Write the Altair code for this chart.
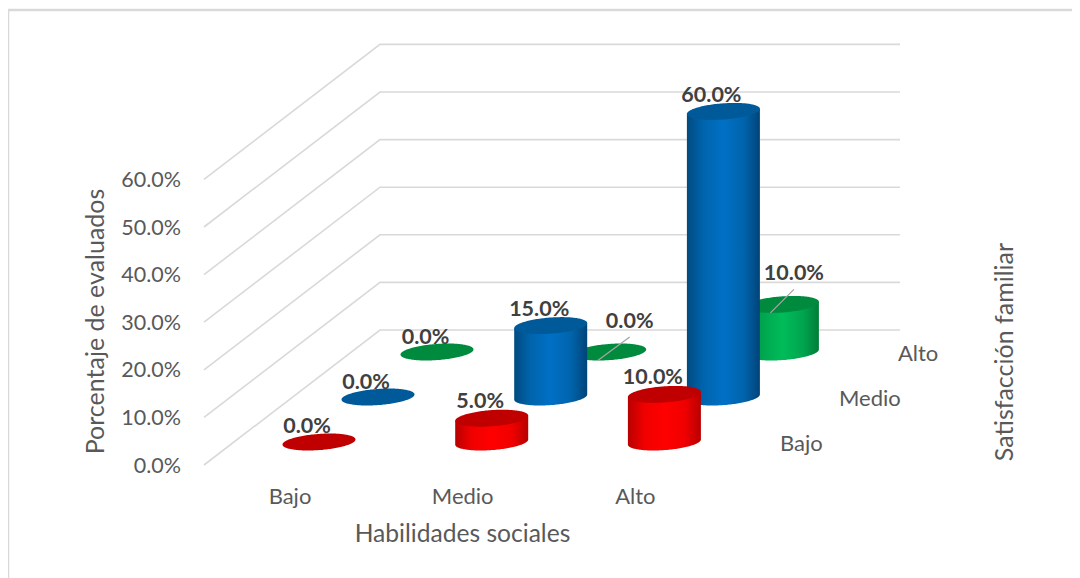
import math
import altair as alt
import pandas as pd

# ---- values ----
categories = ["Bajo", "Medio", "Alto"]
series_names = ["Bajo", "Medio", "Alto"]
values_bajo = [0.0, 5.0, 10.0]
values_medio = [0.0, 15.0, 60.0]
values_alto = [0.0, 0.0, 10.0]
all_values = [values_bajo, values_medio, values_alto]
value_ticks = [0, 10, 20, 30, 40, 50, 60]
x_title = "Habilidades sociales"
y_title = "Porcentaje de evaluados"
depth_title = "Satisfacción familiar"

# ---- oblique projection of (category, series, value) to the plot scales ----
W, H = 1064, 570
PX_PER_PCT = 4.76
CAT_STEP = 172.7
SER_DX, SER_DY = 59.0, 45.0
BASE_X, BASE_Y = 311.0, 434.0      # front series, first category, floor
WALL_BACK_X, WALL_END_X, WALL_FRONT_X = 372.0, 892.0, 196.0
WALL_BACK_Y, WALL_DY = 322.0, 135.0
RX, RY, SHEAR = 36.5, 8.1, 0.07
N = 80

def cx(c, s):
    return BASE_X + c * CAT_STEP + s * SER_DX

def cy(s, v=0.0):
    return BASE_Y - s * SER_DY - v * PX_PER_PCT

def profile():
    for i in range(N + 1):
        t = math.pi * (1 - i / N)
        yield RX * math.cos(t), RY * math.sin(t)

top_rows, body_rows = [], []
for s in range(3):
    for c in range(3):
        v = all_values[s][c]
        for dx, dy in profile():
            x = cx(c, s) + dx
            sh = -SHEAR * dx
            top_rows.append(dict(s=s, c=c, x=x, y1=cy(s, v) + sh - dy, y2=cy(s, v) + sh + dy))
            if v > 0:
                body_rows.append(dict(s=s, c=c, x=x, y1=cy(s, v) + sh, y2=cy(s) + sh + dy))
top_df = pd.DataFrame(top_rows)
body_df = pd.DataFrame(body_rows)

X = alt.X("x:Q", scale=alt.Scale(domain=[0, W], range=[0, W], nice=False, zero=False), axis=None)
Y = alt.Y("y:Q", scale=alt.Scale(domain=[0, H], range=[0, H], nice=False, zero=False), axis=None)
Y1 = alt.Y("y1:Q", scale=alt.Scale(domain=[0, H], range=[0, H], nice=False, zero=False), axis=None)

GRID = "#D9D9D9"
AXIS_TXT = "#595959"
LABEL_TXT = "#404040"
FONT = "Lato"

# frame: left and top edges only
frame = alt.Chart(pd.DataFrame({"x": [0, 0, W], "y": [H, 2, 2], "o": range(3)})).mark_line(
    color=GRID, strokeWidth=2.5, clip=False
).encode(x=X, y=Y, order="o:O")

# walls
wall_rows = []
for t in value_ticks:
    y = WALL_BACK_Y - t * PX_PER_PCT
    wall_rows += [
        dict(t=t, o=0, x=WALL_FRONT_X, y=y + WALL_DY),
        dict(t=t, o=1, x=WALL_BACK_X, y=y),
        dict(t=t, o=2, x=WALL_END_X, y=y),
    ]
walls = alt.Chart(pd.DataFrame(wall_rows)).mark_line(color=GRID, strokeWidth=1.6).encode(
    x=X, y=Y, detail="t:N", order="o:O"
)

def grad(edge_l, mid, bright, edge_r):
    return alt.Gradient(
        gradient="linear", x1=0, x2=1, y1=0, y2=0,
        stops=[
            alt.GradientStop(color=edge_l, offset=0),
            alt.GradientStop(color=mid, offset=0.22),
            alt.GradientStop(color=bright, offset=0.5),
            alt.GradientStop(color=mid, offset=0.78),
            alt.GradientStop(color=edge_r, offset=1),
        ],
    )

body_fill = {
    0: grad("#B80000", "#F00000", "#FF0000", "#B80000"),
    1: grad("#004B80", "#0064AC", "#0070C6", "#004478"),
    2: grad("#008A3E", "#00A54F", "#00BC59", "#007E38"),
}
top_fill = {0: "#C00000", 1: "#005A9A", 2: "#008A3E"}

# leader lines and value labels
leader_rows = []
label_rows = []
label_off = {
    (0, 0): (-12, -15), (0, 1): (-11.5, -16), (0, 2): (-11.5, -16),
    (1, 0): (-12, -14), (1, 1): (-11.5, -15.5), (1, 2): (-12, -15),
    (2, 0): (-11.5, -14), (2, 1): (20, -30.5), (2, 2): (11.5, -30.5),
}
for (s, c), (ox, oy) in label_off.items():
    v = all_values[s][c]
    label_rows.append(dict(x=cx(c, s) + ox, y=cy(s, v) + oy, txt=f"{v:.1f}%"))
    if oy < -20:
        leader_rows += [
            dict(k=f"{s}{c}", o=0, x=cx(c, s) - 12, y=cy(s, v) + 8.5),
            dict(k=f"{s}{c}", o=1, x=cx(c, s) + ox, y=cy(s, v) - 15),
        ]

layers = [frame, walls]
for s in [2, 1, 0]:
    b = body_df[body_df.s == s]
    if len(b):
        layers.append(
            alt.Chart(b).mark_area(color=body_fill[s], line=False, interpolate="linear").encode(
                x=X, y=Y1, y2="y2:Q", detail="c:N"
            )
        )
    layers.append(
        alt.Chart(top_df[top_df.s == s]).mark_area(color=top_fill[s], interpolate="linear").encode(
            x=X, y=Y1, y2="y2:Q", detail="c:N"
        )
    )

layers.append(
    alt.Chart(pd.DataFrame(leader_rows)).mark_line(color="#A6A6A6", strokeWidth=1.3).encode(
        x=X, y=Y, detail="k:N", order="o:O"
    )
)
layers.append(
    alt.Chart(pd.DataFrame(label_rows)).mark_text(
        font=FONT, fontSize=21.5, fontWeight="bold", color=LABEL_TXT
    ).encode(x=X, y=Y, text="txt:N")
)

# value axis labels
tick_df = pd.DataFrame([
    dict(x=173.0, y=WALL_BACK_Y + WALL_DY - t * PX_PER_PCT + 1.5, txt=f"{t:.1f}%") for t in value_ticks
])
layers.append(
    alt.Chart(tick_df).mark_text(font=FONT, fontSize=21.5, color=AXIS_TXT, align="right").encode(x=X, y=Y, text="txt:N")
)

# category labels
cat_df = pd.DataFrame([dict(x=282 + i * CAT_STEP, y=489, txt=n) for i, n in enumerate(categories)])
layers.append(
    alt.Chart(cat_df).mark_text(font=FONT, fontSize=22, color=AXIS_TXT).encode(x=X, y=Y, text="txt:N")
)

# depth labels
ser_df = pd.DataFrame([
    dict(x=772 + i * SER_DX, y=435.5 - i * SER_DY, txt=n) for i, n in enumerate(series_names)
])
layers.append(
    alt.Chart(ser_df).mark_text(font=FONT, fontSize=22, color=AXIS_TXT, align="left").encode(x=X, y=Y, text="txt:N")
)

# titles
layers.append(
    alt.Chart(pd.DataFrame([dict(x=454.5, y=527, txt=x_title)])).mark_text(
        font=FONT, fontSize=24.6, color=AXIS_TXT
    ).encode(x=X, y=Y, text="txt:N")
)
layers.append(
    alt.Chart(pd.DataFrame([dict(x=88, y=313.5, txt=y_title)])).mark_text(
        font=FONT, fontSize=25, color=AXIS_TXT, angle=270
    ).encode(x=X, y=Y, text="txt:N")
)
layers.append(
    alt.Chart(pd.DataFrame([dict(x=997, y=344, txt=depth_title)])).mark_text(
        font=FONT, fontSize=25, color=AXIS_TXT, angle=270
    ).encode(x=X, y=Y, text="txt:N")
)

chart = alt.layer(*layers).properties(
    width=W, height=H, padding=0, background="#FFFFFF", autosize=alt.AutoSizeParams(type="none")
).configure_view(stroke=None)

chart.save("out.html", embed_options={"renderer": "svg", "actions": False})
